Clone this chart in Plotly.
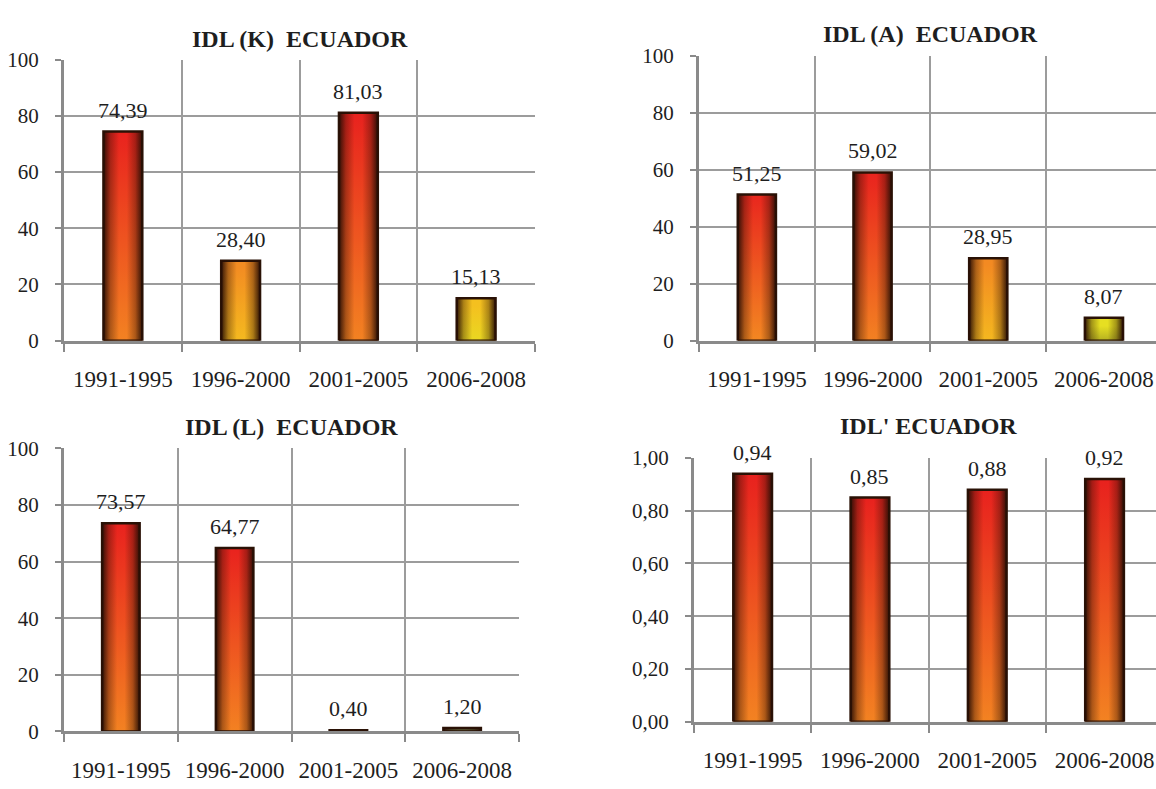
import plotly.graph_objects as go
from plotly.colors import sample_colorscale

# ---- data -------------------------------------------------------------
PERIODS = ["1991-1995", "1996-2000", "2001-2005", "2006-2008"]
IDL_K = [74.39, 28.40, 81.03, 15.13]
IDL_A = [51.25, 59.02, 28.95, 8.07]
IDL_L = [73.57, 64.77, 0.40, 1.20]
IDL_PRIME = [0.94, 0.85, 0.88, 0.92]
TITLES = ["IDL (K)\u00a0 ECUADOR", "IDL (A)\u00a0 ECUADOR",
          "IDL (L)\u00a0 ECUADOR", "IDL' ECUADOR"]

# ---- styling ----------------------------------------------------------
W, H = 1156, 789
FONT = "Liberation Serif"
TEXT = "#1e1e1e"
GRID = "#9c9c9c"
AXIS = "#8a8a8a"
EDGE = "#2a1206"
BAR_W = 0.33
# colour of a bar as a function of its relative height
HEIGHT_SCALE = [[0.0, "#4b4b45"], [0.03, "#77761f"], [0.08, "#e6df22"],
                [0.15, "#f4c11f"], [0.29, "#f38a22"], [0.42, "#ee5222"],
                [0.52, "#e9261e"], [1.0, "#e8201e"]]


def px_x(p):
    return p / W


def px_y(p):
    return 1 - p / H


# panel geometry (pixels): plot-area left/right/top/bottom
panels = [
    dict(vals=IDL_K, left=64, right=535, top=49, bottom=339, cat=117.75,
         ymax=100, dtick=20, fmt="d", title_y=28),
    dict(vals=IDL_A, left=699, right=1156, top=45, bottom=339, cat=115.7,
         ymax=100, dtick=20, fmt="d", title_y=23),
    dict(vals=IDL_L, left=64, right=519, top=450, bottom=742, cat=113.75,
         ymax=100, dtick=20, fmt="d", title_y=428),
    dict(vals=IDL_PRIME, left=694, right=1156, top=460, bottom=732, cat=117.3,
         ymax=1.0, dtick=0.2, fmt=".2f", title_y=427),
]

fig = go.Figure()
layout = dict(
    width=W, height=H, margin=dict(l=0, r=0, t=0, b=0),
    paper_bgcolor="white", plot_bgcolor="white",
    separators=", ", showlegend=False,
    font=dict(family=FONT, color=TEXT, size=21),
    annotations=[],
)

x_pos = list(range(len(PERIODS)))
bounds = [i - 0.5 for i in range(len(PERIODS) + 1)]

for k, p in enumerate(panels):
    n = "" if k == 0 else str(k + 1)
    xa, ya = "x" + n, "y" + n
    xend = -0.5 + (p["right"] - p["left"]) / p["cat"]

    layout["xaxis" + n] = dict(
        domain=[px_x(p["left"]), px_x(p["right"])], anchor=ya,
        range=[-0.5, xend], tickmode="array", tickvals=x_pos, ticktext=PERIODS,
        ticks="", showgrid=False, zeroline=False,
        showline=True, linecolor=AXIS, linewidth=3,
        tickfont=dict(size=23, family=FONT, color=TEXT),
        ticklabelstandoff=16,
        minor=dict(tickmode="array", tickvals=bounds, ticks="outside",
                   ticklen=8, tickwidth=2, tickcolor=AXIS,
                   showgrid=True, gridcolor=GRID, gridwidth=2),
        fixedrange=True,
    )
    layout["yaxis" + n] = dict(
        domain=[px_y(p["bottom"]), px_y(p["top"])], anchor=xa,
        range=[0, p["ymax"]], dtick=p["dtick"], tickformat=p["fmt"],
        ticks="outside", ticklen=6, tickwidth=2, tickcolor=AXIS,
        showgrid=True, gridcolor=GRID, gridwidth=2, zeroline=False,
        showline=True, linecolor=AXIS, linewidth=3,
        tickfont=dict(size=21, family=FONT, color=TEXT),
        ticklabelstandoff=12, fixedrange=True,
    )

    for i, v in enumerate(p["vals"]):
        h = v / p["ymax"]
        top_c, bot_c = sample_colorscale(HEIGHT_SCALE, [h, min(h * 0.55, 0.3)])
        l, r = i - BAR_W / 2, i + BAR_W / 2
        # body with vertical colour gradient
        fig.add_trace(go.Scatter(
            x=[l, r, r, l, l], y=[0, 0, v, v, 0], xaxis=xa, yaxis=ya,
            mode="lines", fill="toself",
            fillgradient=dict(type="vertical", start=0, stop=v,
                              colorscale=[[0, bot_c], [1, top_c]]),
            line=dict(color=EDGE, width=2.5), hoverinfo="skip",
        ))
        # darkened side edges
        fig.add_trace(go.Scatter(
            x=[l, r, r, l, l], y=[0, 0, v, v, 0], xaxis=xa, yaxis=ya,
            mode="lines", fill="toself", line=dict(width=0),
            fillgradient=dict(type="horizontal", start=l, stop=r,
                              colorscale=[[0, "rgba(40,14,4,0.95)"],
                                          [0.18, "rgba(40,14,4,0.35)"],
                                          [0.4, "rgba(40,14,4,0)"],
                                          [0.6, "rgba(40,14,4,0)"],
                                          [0.82, "rgba(40,14,4,0.35)"],
                                          [1, "rgba(40,14,4,0.95)"]]),
            hoverinfo="skip",
        ))
        # value label
        layout["annotations"].append(dict(
            x=i, y=v, xref=xa, yref=ya, text=f"{v:.2f}".replace(".", ","),
            showarrow=False, yanchor="bottom", yshift=7,
            font=dict(size=22, family=FONT, color=TEXT),
        ))

    # panel title
    full_right = p["left"] + 4 * p["cat"]
    layout["annotations"].append(dict(
        x=px_x((p["left"] + full_right) / 2), y=px_y(p["title_y"]),
        xref="paper", yref="paper", text=f"<b>{TITLES[k]}</b>",
        showarrow=False, xanchor="center", yanchor="middle",
        font=dict(size=24, family=FONT, color=TEXT),
    ))

fig.update_layout(**layout)
fig.write_html("out.html")
